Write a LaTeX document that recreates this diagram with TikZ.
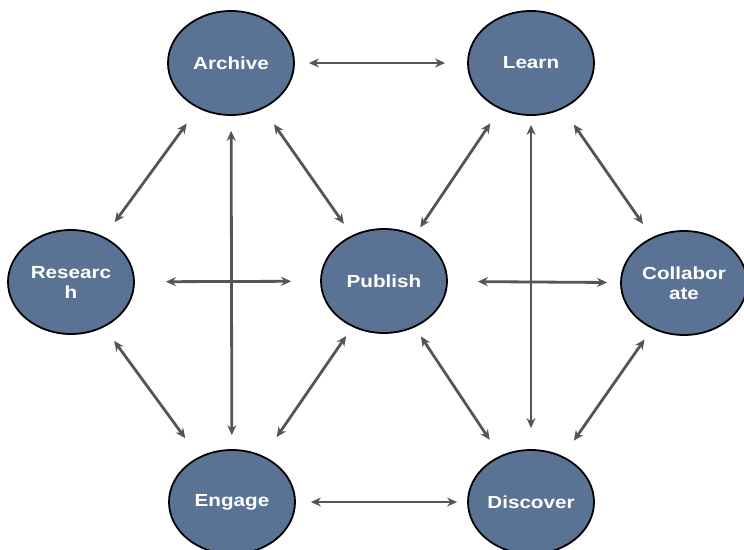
\documentclass[tikz,border=0pt]{standalone}
\usepackage{fontspec}
\newfontfamily\nodefont[FakeStretch=1.18]{Liberation Sans}
\usetikzlibrary{arrows.meta, shapes.geometric}

\definecolor{topicblue}{RGB}{90,115,148}
\definecolor{linkgray}{RGB}{85,85,85}

\tikzset{
  topic/.style={ellipse, draw=black, line width=1.8pt, fill=topicblue,
    minimum width=126pt, minimum height=104pt, inner sep=0pt,
    text=white, align=center, font=\nodefont\bfseries\fontsize{17.5}{20}\selectfont},
  link/.style={{Stealth[length=10pt,width=9pt]}-{Stealth[length=10pt,width=9pt]},
    draw=linkgray, line width=2.8pt, shorten <=16pt, shorten >=16pt}
}

\begin{document}
\begin{tikzpicture}[x=1pt, y=-1pt]
\useasboundingbox (0,0) rectangle (744,549);

\node (archive)[topic] at (231, 63) {Archive};
\node (learn)[topic] at (531, 63) {Learn};
\node (research)[topic] at (71, 282) {Researc\\h};
\node (publish)[topic] at (384, 281) {Publish};
\node (collab)[topic] at (684, 283) {Collabor\\ate};
\node (engage)[topic] at (232, 502) {Engage};
\node (discover)[topic] at (531, 502) {Discover};

% top row
\draw[link, shorten <=14pt, shorten >=22pt] (archive) -- (learn);
\draw[link, shorten <=19pt, shorten >=18pt] (archive) -- (research);
\draw[link, shorten <=15pt, shorten >=14pt] (archive) -- (engage);
\draw[link, shorten <=19pt, shorten >=14pt] (archive) -- (publish);
\draw[link, shorten <=17pt, shorten >=9pt] (learn) -- (publish);
\draw[link, shorten <=9pt, shorten >=21pt] (learn) -- (discover);
\draw[link, shorten <=19pt, shorten >=16pt] (learn) -- (collab);

% middle row
\draw[link, shorten <=31pt, shorten >=29pt] (research) -- (publish);
\draw[link, shorten <=30pt, shorten >=13pt] (publish) -- (collab);

% bottom row
\draw[link, shorten <=17pt, shorten >=23pt] (research) -- (engage);
\draw[link, shorten <=11pt, shorten >=23pt] (publish) -- (engage);
\draw[link, shorten <=11pt, shorten >=19pt] (publish) -- (discover);
\draw[link, shorten <=13pt, shorten >=19pt] (collab) -- (discover);
\draw[link, shorten <=15pt, shorten >=10pt] (engage) -- (discover);
\end{tikzpicture}
\end{document}
